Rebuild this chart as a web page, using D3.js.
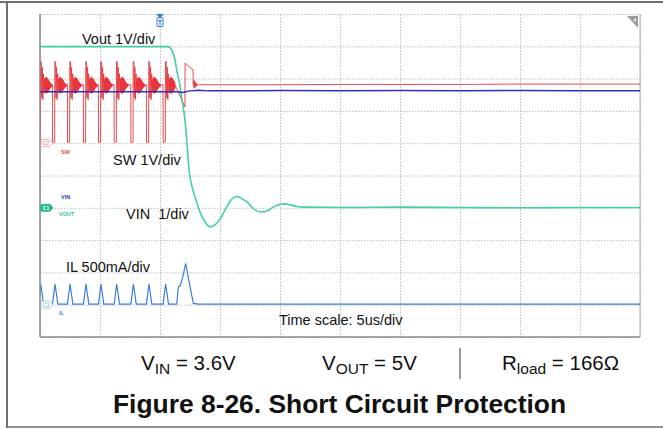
<!DOCTYPE html>
<html>
<head>
<meta charset="utf-8">
<script src="https://cdn.jsdelivr.net/npm/d3@7"></script>
<style>
  html, body { margin: 0; padding: 0; background: #fff; }
  svg { display: block; font-family: "Liberation Sans", Arial, sans-serif; }
</style>
</head>
<body>
<svg id="chart" width="663" height="429"></svg>
<script>
// ---- capture data (time in µs) ----
const timeRange = [0, 50];            // 10 div x 5 µs/div
const divisions = 10;

// Vout [µs, V]
const voutTrace = [
  [0, 4.99], [10.67, 4.99], [10.97, 4.89], [11.25, 4.58], [11.42, 4.20],
  [11.63, 3.86], [11.83, 3.34], [12.08, 2.72], [12.29, 1.79], [12.42, 1.17],
  [12.58, 0.80], [12.79, 0.49], [13.08, 0.15], [13.33, -0.13], [13.75, -0.44],
  [14.17, -0.59], [14.58, -0.53], [15.0, -0.35], [15.5, -0.01], [15.92, 0.24],
  [16.38, 0.35], [16.75, 0.30], [17.25, 0.18], [17.83, -0.04], [18.42, -0.13],
  [18.92, -0.10], [19.42, 0.02], [19.83, 0.09], [20.33, 0.12], [20.83, 0.09],
  [21.42, 0.04], [22.08, 0.02], [26, 0.01], [30, 0.02], [35, 0.01],
  [40, 0.00], [45, 0.01], [50, 0.01]
];

// VIN [µs, V]
const vinTrace = [
  [0, 3.59], [5, 3.59], [10, 3.59], [11.4, 3.59], [11.9, 3.57], [12.5, 3.62],
  [13.2, 3.64], [14, 3.62], [20, 3.63], [25, 3.62], [30, 3.63], [35, 3.62],
  [40, 3.63], [45, 3.62], [50, 3.62]
];

// SW: rising edges of each switching cycle [µs]
const swRiseTimes = [0.06, 1.25, 2.5, 3.83, 5.08, 6.39, 7.78, 9.08, 10.47];

// one SW cycle around its rising edge [ns, V]: low pulse, edge, DCM ringing
const swCycle = [
  [-220, 1.81], [-205, 0.03], [-30, 0.03], [-15, 2.53], [50, 2.52],
  [80, 1.40], [130, 2.35], [180, 1.35], [225, 2.15],
  [250, 1.93], [275, 1.63], [300, 1.98], [325, 1.58], [350, 2.01],
  [375, 1.56], [400, 2.03], [425, 1.545], [450, 2.04], [475, 1.545],
  [500, 2.03], [525, 1.56], [550, 2.01], [575, 1.58], [600, 1.99],
  [625, 1.605], [650, 1.96], [675, 1.635], [700, 1.93], [725, 1.665],
  [750, 1.90], [775, 1.695], [800, 1.87], [825, 1.72], [850, 1.85],
  [875, 1.74], [900, 1.83], [925, 1.76], [950, 1.81], [975, 1.78],
  [1000, 1.81]
];

// SW after the short [µs, V]
const swTail = [
  [11.25, 1.81], [12.08, 1.12], [12.09, 2.48], [12.75, 2.27], [12.77, 1.85],
  [12.80, 1.95], [12.83, 1.70], [12.87, 1.93], [12.90, 1.72], [12.93, 1.90],
  [12.97, 1.75], [13.00, 1.87], [13.03, 1.77], [13.07, 1.84], [13.10, 1.79],
  [13.2, 1.81], [16, 1.81], [20, 1.81], [25, 1.82], [30, 1.82], [35, 1.82],
  [40, 1.83], [45, 1.83], [50, 1.83]
];

// IL: one current pulse around the SW rising edge [ns, mA]
const ilCycle = [[-210, 8], [0, 320], [240, 8]];

// IL after the short [µs, mA]
const ilTail = [
  [10.8, 8], [11.39, 8], [11.53, 279], [11.67, 289], [11.9, 430],
  [12.14, 641], [12.45, 330], [12.78, 20], [13.2, 10], [20, 8],
  [30, 10], [40, 8], [50, 9]
];

// channel offsets (div from bottom) and scale per div
const chVout = { ground: 4, perDiv: 1 };
const chVin  = { ground: 4, perDiv: 1 };
const chSw   = { ground: 6, perDiv: 1 };
const chIl   = { ground: 1, perDiv: 500 };

// ---- layout ----
const svg = d3.select("#chart");
const plot = { left: 40, top: 14, right: 640, bottom: 337 };

const x = d3.scaleLinear().domain(timeRange).range([plot.left, plot.right]);
const yDiv = d3.scaleLinear().domain([0, divisions]).range([plot.bottom, plot.top]);

// outer frame
svg.append("line").attr("x1", 0).attr("x2", 663).attr("y1", 2).attr("y2", 2)
  .attr("stroke", "#6f6f6f").attr("stroke-width", 2);
svg.append("line").attr("x1", 7).attr("x2", 7).attr("y1", 1).attr("y2", 428)
  .attr("stroke", "#6f6f6f").attr("stroke-width", 2);
svg.append("line").attr("x1", 6).attr("x2", 663).attr("y1", 427).attr("y2", 427)
  .attr("stroke", "#6f6f6f").attr("stroke-width", 1.5);

// grid from axes
const gridX = svg.append("g").attr("transform", `translate(0,${plot.bottom})`)
  .call(d3.axisBottom(x).ticks(divisions).tickSize(-(plot.bottom - plot.top)).tickFormat(""));
const gridY = svg.append("g").attr("transform", `translate(${plot.left},0)`)
  .call(d3.axisLeft(yDiv).ticks(divisions).tickSize(-(plot.right - plot.left)).tickFormat(""));
[gridX, gridY].forEach(g => {
  g.select(".domain").remove();
  g.selectAll(".tick line").attr("stroke", "#bdbdbd").attr("stroke-width", 1)
    .attr("stroke-dasharray", "1.5,1.5");
});

// plot border
svg.append("line").attr("x1", plot.left).attr("x2", plot.left).attr("y1", plot.top).attr("y2", plot.bottom)
  .attr("stroke", "#8a8a8a").attr("stroke-width", 1.5);
svg.append("line").attr("x1", plot.left).attr("x2", plot.right).attr("y1", plot.bottom).attr("y2", plot.bottom)
  .attr("stroke", "#8a8a8a").attr("stroke-width", 1.5);
svg.append("line").attr("x1", plot.right).attr("x2", plot.right).attr("y1", plot.top).attr("y2", plot.bottom)
  .attr("stroke", "#b0b0b0").attr("stroke-width", 1);

svg.append("clipPath").attr("id", "plotClip").append("rect")
  .attr("x", plot.left + 0.5).attr("y", plot.top).attr("width", plot.right - plot.left - 0.5)
  .attr("height", plot.bottom - plot.top);

const traces = svg.append("g").attr("clip-path", "url(#plotClip)");

function lineFor(ch) {
  return d3.line().x(d => x(d[0])).y(d => yDiv(ch.ground + d[1] / ch.perDiv));
}

// expand the repeated switching cycles onto the time axis
function expandCycles(rises, cycle, tailStart) {
  const pts = [];
  rises.forEach((t0, i) => {
    const limit = i < rises.length - 1 ? rises[i + 1] + cycle[0][0] / 1000 : tailStart;
    cycle.forEach(([dt, v]) => {
      const t = t0 + dt / 1000;
      if (t < limit) pts.push([t, v]);
    });
  });
  return pts;
}

const swData = expandCycles(swRiseTimes, swCycle, swTail[0][0]).concat(swTail);
const ilData = expandCycles(swRiseTimes, ilCycle, ilTail[0][0]).concat(ilTail);

traces.append("path").datum(ilData).attr("d", lineFor(chIl))
  .attr("fill", "none").attr("stroke", "#3a7fd6").attr("stroke-width", 1.2);
traces.append("path").datum(swData).attr("d", lineFor(chSw))
  .attr("fill", "none").attr("stroke", "#e8363c").attr("stroke-width", 1).attr("stroke-opacity", 0.9);
traces.append("path").datum(voutTrace).attr("d", lineFor(chVout).curve(d3.curveMonotoneX))
  .attr("fill", "none").attr("stroke", "#42cfa6").attr("stroke-width", 1.6);
traces.append("path").datum(vinTrace).attr("d", lineFor(chVin))
  .attr("fill", "none").attr("stroke", "#2b2fc4").attr("stroke-width", 1.5);

// trigger marker
const tx = x(10);
svg.append("path").attr("d", `M${tx - 4},${plot.top} L${tx + 4},${plot.top} L${tx},${plot.top + 4} Z`)
  .attr("fill", "#3a7fd6");
svg.append("rect").attr("x", tx - 3).attr("y", plot.top + 3.5).attr("width", 6).attr("height", 9)
  .attr("rx", 1).attr("fill", "#e6eefa").attr("stroke", "#3a7fd6").attr("stroke-width", 1);
svg.append("text").attr("x", tx).attr("y", plot.top + 11).attr("text-anchor", "middle")
  .attr("font-size", 7).attr("font-weight", "bold").attr("fill", "#3a7fd6").text("T");

// corner badge
svg.append("path").attr("d", `M${plot.right - 13},${plot.top + 2} L${plot.right - 2},${plot.top + 2} L${plot.right - 2},${plot.top + 14} Z`)
  .attr("fill", "#9c9c9c");
svg.append("text").attr("x", plot.right - 5).attr("y", plot.top + 8).attr("text-anchor", "middle")
  .attr("font-size", 5).attr("fill", "#fff").text("ǂ");

// channel ground markers
function marker(ch, name, stroke, fill, textFill) {
  const yy = yDiv(ch.ground);
  const g = svg.append("g").attr("transform", `translate(${plot.left + 1},${yy})`);
  g.append("path").attr("d", "M1,-3.5 H9 L12,0 L9,3.5 H1 Q0,3.5 0,2.5 V-2.5 Q0,-3.5 1,-3.5 Z")
    .attr("fill", fill).attr("stroke", stroke).attr("stroke-width", 0.8);
  g.append("text").attr("x", 5).attr("y", 1.8).attr("text-anchor", "middle")
    .attr("font-size", 5).attr("font-weight", "bold").attr("fill", textFill).text(name);
}
marker(chSw, "C2", "#f09a9a", "#fff", "#f09a9a");
marker(chVout, "C1", "#1fb886", "#1fb886", "#fff");
marker(chIl, "C3", "#9cc0ec", "#fff", "#9cc0ec");

const tiny = [
  { t: "SW", x: 61, y: 154, c: "#e04848" },
  { t: "VIN", x: 61, y: 199, c: "#3438c0" },
  { t: "VOUT", x: 59, y: 216, c: "#2fc49a" },
  { t: "IL", x: 59, y: 315, c: "#3a7fd6" }
];
svg.selectAll(".tiny").data(tiny).enter().append("text")
  .attr("x", d => d.x).attr("y", d => d.y).attr("font-size", 5.5).attr("font-weight", "bold")
  .attr("fill", d => d.c).text(d => d.t);

// channel labels
const labels = [
  { t: "Vout 1V/div", x: 82, y: 44 },
  { t: "SW 1V/div", x: 113, y: 165 },
  { t: "VIN  1/div", x: 126, y: 219 },
  { t: "IL 500mA/div", x: 66, y: 272 },
  { t: "Time scale: 5us/div", x: 279, y: 325 }
];
svg.selectAll(".lbl").data(labels).enter().append("text")
  .attr("x", d => d.x).attr("y", d => d.y).attr("font-size", 14.5).attr("fill", "#111")
  .attr("xml:space", "preserve").style("white-space", "pre").text(d => d.t);

// test conditions
function cond(xPos, main, sub, rest) {
  const t = svg.append("text").attr("x", xPos).attr("y", 370).attr("font-size", 20.5).attr("fill", "#111");
  t.append("tspan").text(main);
  t.append("tspan").attr("font-size", 15.5).attr("dy", 4).text(sub);
  t.append("tspan").attr("dy", -4).text(rest);
}
cond(141, "V", "IN", " = 3.6V");
cond(322, "V", "OUT", " = 5V");
cond(502, "R", "load", " = 166Ω");
svg.append("line").attr("x1", 460).attr("x2", 460).attr("y1", 348).attr("y2", 379)
  .attr("stroke", "#333").attr("stroke-width", 1);

svg.append("text").attr("x", 113).attr("y", 413).attr("font-size", 26.4).attr("font-weight", "bold")
  .attr("fill", "#111").text("Figure 8-26. Short Circuit Protection");
</script>
</body>
</html>
